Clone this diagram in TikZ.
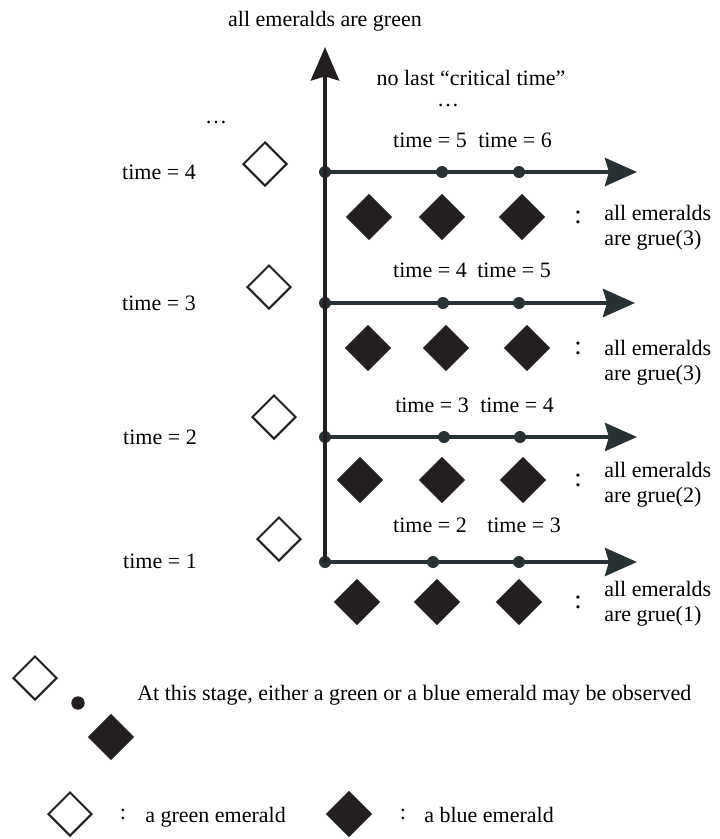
\documentclass[tikz,border=0pt]{standalone}
\usepackage{fontspec}
\setmainfont{Liberation Serif}
\usetikzlibrary{arrows.meta,shapes.geometric,positioning}
\definecolor{emdark}{HTML}{231F20}
\definecolor{axgray}{HTML}{283134}

\begin{document}
\begin{tikzpicture}[x=0.75pt,y=-0.75pt,
    font=\fontsize{16.5}{18.75}\selectfont,
    greenem/.style={diamond,draw=emdark,line width=1.5pt,fill=white,inner sep=0pt,minimum width=33pt,minimum height=33pt},
    blueem/.style={diamond,fill=emdark,inner sep=0pt,minimum width=35pt,minimum height=35pt},
    tick/.style={circle,fill=axgray,inner sep=0pt,minimum size=9pt},
    sep/.style={font=\fontsize{20}{20}\selectfont},
    timeline/.style={axgray,line width=3.4pt,-{Stealth[length=24pt,width=21pt,inset=3pt]}}]
        \useasboundingbox (0,0) rectangle (719,839);
        \node (top) [anchor=base] at (325,26) {all emeralds are green};
        \node (nolast) [anchor=base] at (471,85) {no last “critical time”};
        \node (dotsR) [anchor=base] at (448,106) {\dots};
        \node (dotsL) [anchor=base] at (216,123) {\dots};
        % left side: times and green emeralds
        \node (T4) [anchor=base] at (159,179) {time = 4};
        \node (T3) [anchor=base] at (159,310) {time = 3};
        \node (T2) [anchor=base] at (160,444) {time = 2};
        \node (T1) [anchor=base] at (160,568) {time = 1};
        \node (G4) [greenem] at (265,164) {};
        \node (G3) [greenem] at (269,287) {};
        \node (G2) [greenem] at (274,417) {};
        \node (G1) [greenem] at (279,539) {};
        % ticks
        \node (A4) [tick] at (325,172) {};
        \node (A3) [tick] at (325,303) {};
        \node (A2) [tick] at (325,437) {};
        \node (A1) [tick] at (325,562) {};
        \coordinate (up) at (325,47);
        \coordinate (E4) at (637,172);
        \coordinate (E3) at (635,303);
        \coordinate (E2) at (637,437);
        \coordinate (E1) at (637,562);
        \draw [timeline] (A4.center) -- (E4);
        \draw [timeline] (A3.center) -- (E3);
        \draw [timeline] (A2.center) -- (E2);
        \draw [timeline] (A1.center) -- (E1);
        \draw [emdark,line width=3.6pt,-{Stealth[length=25pt,width=21pt,inset=3pt]}] (A1.center) -- (up);
        \node (P4) [tick] at (442,172) {};
        \node (Q4) [tick] at (519,172) {};
        \node (P3) [tick] at (443,303) {};
        \node (Q3) [tick] at (519,303) {};
        \node (P2) [tick] at (444,437) {};
        \node (Q2) [tick] at (520,437) {};
        \node (P1) [tick] at (433,562) {};
        \node (Q1) [tick] at (519,562) {};
        \node (L4a) [anchor=base] at (430,147) {time = 5};
        \node (L4b) [anchor=base] at (515,147) {time = 6};
        \node (L3a) [anchor=base] at (430,277) {time = 4};
        \node (L3b) [anchor=base] at (514,277) {time = 5};
        \node (L2a) [anchor=base] at (432,412) {time = 3};
        \node (L2b) [anchor=base] at (517,412) {time = 4};
        \node (L1a) [anchor=base] at (430,532) {time = 2};
        \node (L1b) [anchor=base] at (524,532) {time = 3};
        % blue emeralds
        \node (B41) [blueem] at (369,217) {};
        \node (B42) [blueem] at (442,217) {};
        \node (B43) [blueem] at (522,217) {};
        \node (B31) [blueem] at (368,348) {};
        \node (B32) [blueem] at (446,348) {};
        \node (B33) [blueem] at (527,348) {};
        \node (B21) [blueem] at (360,480) {};
        \node (B22) [blueem] at (442,480) {};
        \node (B23) [blueem] at (523,480) {};
        \node (B11) [blueem] at (357,602) {};
        \node (B12) [blueem] at (437,602) {};
        \node (B13) [blueem] at (519,602) {};
        \node (C4) [sep] at (578,217) {:};
        \node (C3) [sep] at (578,348) {:};
        \node (C2) [sep] at (578,480) {:};
        \node (C1) [sep] at (578,602) {:};
        \node (R4) [anchor=base west,align=left,inner sep=0pt] at (604,245) {all emeralds\\are grue(3)};
        \node (R3) [anchor=base west,align=left,inner sep=0pt] at (604,380) {all emeralds\\are grue(3)};
        \node (R2) [anchor=base west,align=left,inner sep=0pt] at (604,502) {all emeralds\\are grue(2)};
        \node (R1) [anchor=base west,align=left,inner sep=0pt] at (604,621) {all emeralds\\are grue(1)};
        % either / or
        \node (Gs) [greenem] at (35,678) {};
        \node (Ds) [tick,fill=emdark,minimum size=10pt] at (78,703) {};
        \node (Bs) [blueem] at (111,737) {};
        \node (stage) [anchor=base west,inner sep=0pt] at (137,700) {At this stage, either a green or a blue emerald may be observed};
        % legend
        \node (Gk) [greenem] at (70,814) {};
        \node (Gc) at (123,814) {:};
        \node (Gt) [anchor=base west,inner sep=0pt] at (145,822) {a green emerald};
        \node (Bk) [blueem] at (349,814) {};
        \node (Bc) at (403,814) {:};
        \node (Bt) [anchor=base west,inner sep=0pt] at (424,822) {a blue emerald};
      \end{tikzpicture}
\end{document}
